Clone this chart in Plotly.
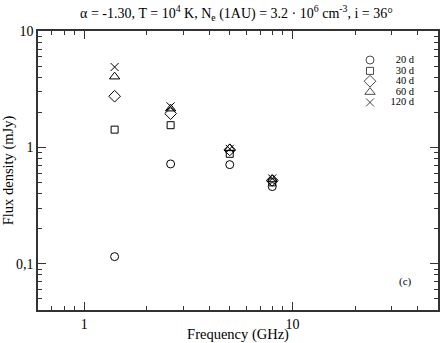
import plotly.graph_objects as go

# frequencies (GHz) and flux densities (mJy)
freq = [1.4, 2.6, 5.0, 8.0]
flux_20d = [0.115, 0.72, 0.71, 0.46]
flux_30d = [1.42, 1.55, 0.88, 0.50]
flux_40d = [2.75, 1.95, 0.95, 0.52]
flux_60d = [4.05, 2.15, 0.98, 0.53]
flux_120d = [4.9, 2.25, 0.97, 0.54]

labels = ["20 d", "30 d", "40 d", "60 d", "120 d"]
symbols = ["circle-open", "square-open", "diamond-open", "triangle-up-open", "x-thin-open"]
sizes = [8, 7, 9, 9, 8]

x_ticks = [1, 10]
x_ticktext = ["1", "10"]
x_minor = [0.7, 0.8, 0.9, 2, 3, 4, 5, 6, 7, 8, 9, 20, 30, 40]
y_ticks = [0.1, 1, 10]
y_ticktext = ["0,1", "1", "10"]
y_minor = [0.05, 0.06, 0.07, 0.08, 0.09, 0.2, 0.3, 0.4, 0.5, 0.6, 0.7, 0.8, 0.9,
           2, 3, 4, 5, 6, 7, 8, 9]

FONT = "Liberation Serif, Times New Roman, serif"

fig = go.Figure()
series = [flux_20d, flux_30d, flux_40d, flux_60d, flux_120d]
for vals, sym, sz, name in zip(series, symbols, sizes, labels):
    fig.add_trace(go.Scatter(x=freq, y=vals, mode="markers", name=name,
                             marker=dict(symbol=sym, size=sz, color="black",
                                         line=dict(width=1, color="black")),
                             showlegend=False))

# legend drawn on a hidden overlay axis so the rows can sit close together
leg_y = [0.896, 0.857, 0.820, 0.781, 0.744]
fig.add_trace(go.Scatter(x=[0.83] * 5, y=leg_y, mode="markers", xaxis="x2", yaxis="y2",
                         marker=dict(symbol=symbols, size=sizes, color="black",
                                     line=dict(width=1, color="black")),
                         showlegend=False, hoverinfo="skip"))
fig.add_trace(go.Scatter(x=[0.94] * 5, y=leg_y, mode="text", text=labels,
                         textposition="middle left", xaxis="x2", yaxis="y2",
                         textfont=dict(family=FONT, size=10.5, color="black"),
                         showlegend=False, hoverinfo="skip"))

axis_common = dict(showline=True, linecolor="#333", linewidth=1.5, mirror="allticks",
                   ticks="inside", ticklen=8, tickwidth=1, tickcolor="#333",
                   showgrid=False, zeroline=False, automargin=False,
                   tickfont=dict(family=FONT, size=14, color="black"))

fig.update_layout(
    width=442, height=343,
    margin=dict(l=38, r=4, t=31, b=33),
    plot_bgcolor="white", paper_bgcolor="white",
    title=dict(text="α = -1.30, T = 10<sup>4</sup> K, N<sub>e</sub> (1AU) = 3.2 · 10<sup>6</sup> cm<sup>-3</sup>, i = 36°",
               x=0.535, xanchor="center", y=0.962, yanchor="middle", automargin=False,
               font=dict(family=FONT, size=14, color="black")),
    xaxis=dict(type="log", range=[-0.2218, 1.699], tickvals=x_ticks, ticktext=x_ticktext,
               minor=dict(tickvals=x_minor, ticks="inside", ticklen=4, tickcolor="#333"),
               title=dict(text="Frequency (GHz)", standoff=0,
                          font=dict(family=FONT, size=14.5, color="black")),
               **axis_common),
    yaxis=dict(type="log", range=[-1.398, 1.0], tickvals=y_ticks, ticktext=y_ticktext,
               minor=dict(tickvals=y_minor, ticks="inside", ticklen=4, tickcolor="#333"),
               title=dict(text="Flux density (mJy)", standoff=2,
                          font=dict(family=FONT, size=14.5, color="black")),
               **axis_common),
    xaxis2=dict(overlaying="x", range=[0, 1], visible=False),
    yaxis2=dict(overlaying="y", range=[0, 1], visible=False),
    annotations=[dict(text="(c)", x=0.94, y=0.072, xref="paper", yref="paper",
                      showarrow=False, font=dict(family=FONT, size=11, color="black"))],
)

# drop the browser's default 8px body margin so the figure fills the window
fig.write_html("out.html", config={"displayModeBar": False},
               post_script="document.body.style.margin='0';")
